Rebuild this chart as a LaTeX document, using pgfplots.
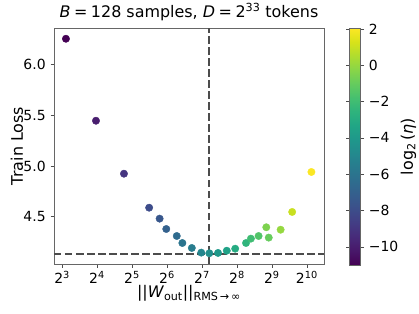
\documentclass[border=0pt]{standalone}
\usepackage{fontspec}
\setmainfont{DejaVu Sans}
\usepackage{pgfplots}
\pgfplotsset{compat=1.18}
\newcommand{\tickfont}{\fontsize{14}{16}\selectfont}
\newcommand{\labfont}{\fontsize{16}{19}\selectfont}
\begin{document}
\tickfont
\begin{tikzpicture}
\begin{axis}[
  at={(0,0)}, anchor=south west,
  scale only axis, width=270bp, height=236bp,
  xmode=log, log basis x=2,
  xmin=6.82, xmax=1438, ymin=4.034, ymax=6.36,
  xtick={8,16,32,64,128,256,512,1024},
  xticklabels={2\textsuperscript{3},2\textsuperscript{4},2\textsuperscript{5},2\textsuperscript{6},2\textsuperscript{7},2\textsuperscript{8},2\textsuperscript{9},2\textsuperscript{10}},
  ytick={4.5,5.0,5.5,6.0},
  yticklabels={4.5,5.0,5.5,6.0},
  minor tick num=0,
  tick align=outside, tick pos=left,
  major tick length=3.5bp,
  every tick/.style={black!70, line width=0.6pt},
  axis line style={black!60, line width=0.8pt},
  every tick label/.append style={font=\tickfont},
  xticklabel style={inner sep=1bp, yshift=-2.3bp},
  colormap/viridis,
  point meta min=-11, point meta max=2.05,
  colorbar,
  colorbar style={
    at={(parent axis.north east)}, anchor=north west, xshift=17bp,
    scale only axis, width=11bp, height=237bp,
    ytick={-10,-8,-6,-4,-2,0,2},
    yticklabels={−10,−8,−6,−4,−2,0,2},
    tick align=outside, major tick length=3.5bp,
    every tick/.style={black!70, line width=0.6pt},
    axis line style={black!60, line width=0.8pt},
    yticklabel style={font=\tickfont},
    ylabel={log\textsubscript{2}\,(\textit{η})},
    ylabel style={font=\labfont, inner sep=1bp, at={(rel axis cs:1,0.5)}, anchor=center, yshift=-48bp},
  },
  title={\textit{B}\hspace{0.22em}=\hspace{0.22em}128 samples, \textit{D}\hspace{0.22em}=\hspace{0.22em}2\textsuperscript{33} tokens},
  title style={font=\labfont, at={(rel axis cs:0.5,1)}, anchor=base, yshift=4.5bp},
  xlabel={||\textit{W}\textsubscript{out}||\textsubscript{RMS\,→\,∞}},
  xlabel style={font=\labfont, inner sep=1bp, at={(rel axis cs:0.5,0)}, anchor=center, yshift=-29.5bp},
  ylabel={Train Loss},
  ylabel style={font=\labfont, at={(rel axis cs:0,0.5)}, anchor=center, yshift=37bp},
]
\addplot[black!70, line width=2bp, dash pattern=on 7.5bp off 3.5bp, forget plot] coordinates {(6.82,4.135) (1438,4.135)};
\addplot[black!70, line width=2bp, dash pattern=on 7.5bp off 3.5bp, forget plot] coordinates {(148.1,4.034) (148.1,6.36)};
\addplot[scatter, only marks, mark=*, mark size=3.7bp,
  scatter/use mapped color={draw=mapped color, fill=mapped color},
  point meta=explicit] table[meta=m] {
x y m
8.64 6.254 -11
15.67 5.446 -10
27.28 4.924 -9
44.94 4.589 -8
55.32 4.481 -7.5
63.12 4.379 -7
77.71 4.310 -6.5
86.82 4.241 -6
104.7 4.192 -5.5
126.2 4.146 -5
148.1 4.140 -4.5
176.0 4.143 -4
209.4 4.165 -3.5
247.3 4.185 -3
306.5 4.241 -2.5
337.8 4.284 -2
393.4 4.310 -1.5
458.2 4.396 -0.5
481.0 4.294 -1
608.9 4.372 0
765.3 4.547 1
1120.4 4.941 2
};
\end{axis}
\pgfresetboundingbox
\path[use as bounding box] (-54bp,-50bp) rectangle (365bp,264bp);
\end{tikzpicture}
\end{document}
